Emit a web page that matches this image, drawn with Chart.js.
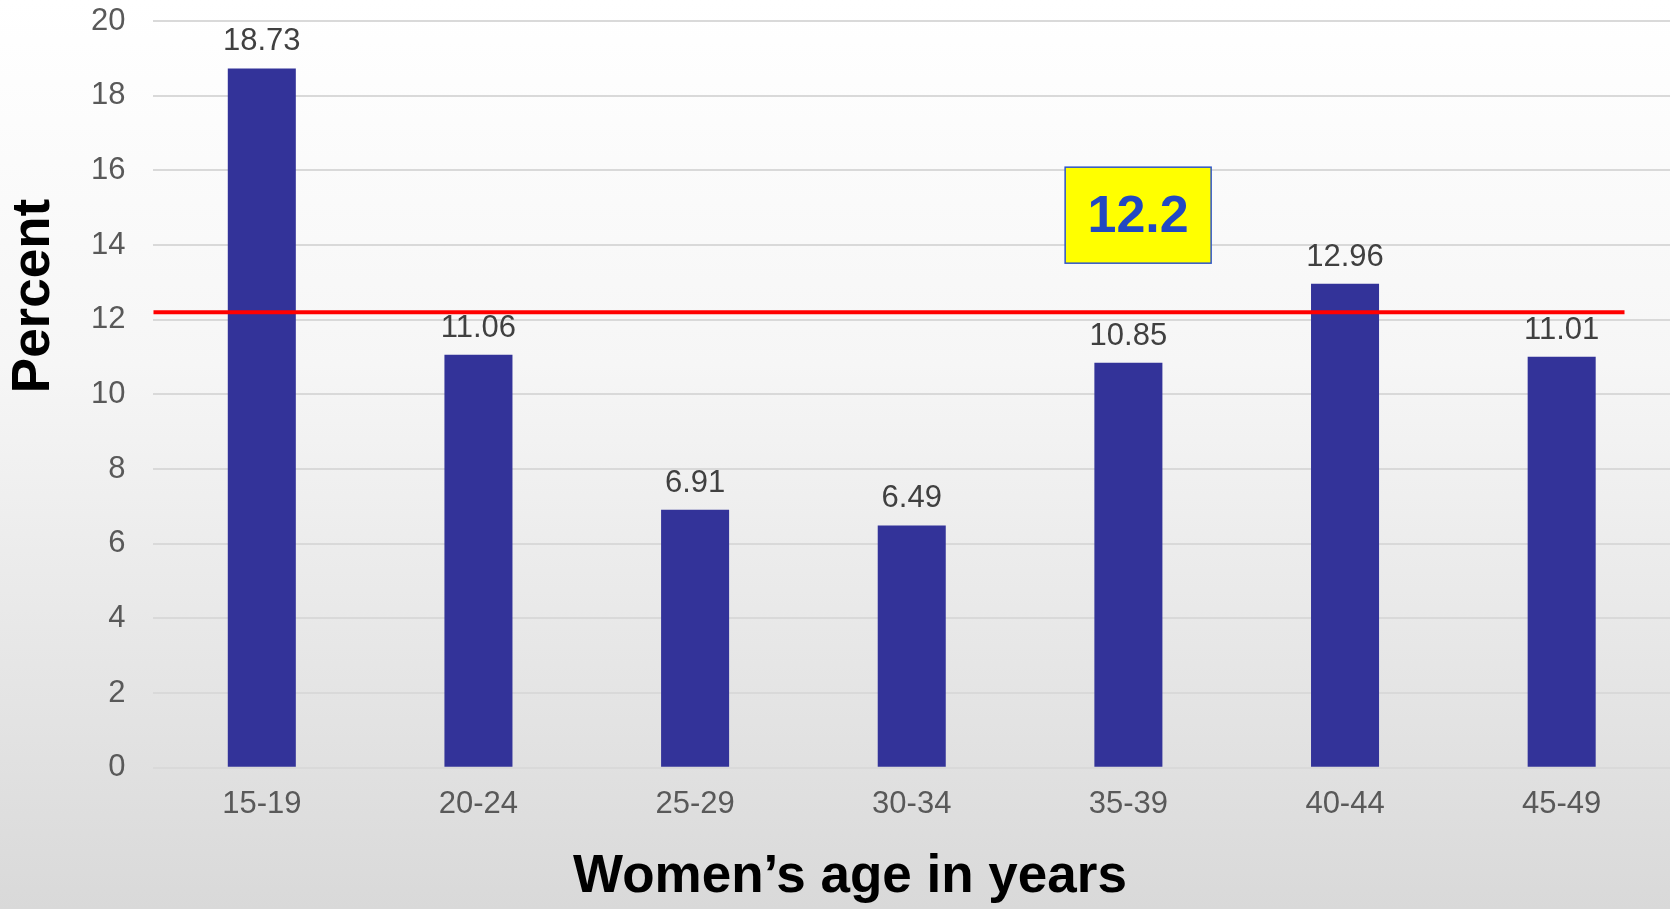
<!DOCTYPE html>
<html>
<head>
<meta charset="utf-8">
<title>Women's age in years</title>
<script src="https://cdn.jsdelivr.net/npm/chart.js@4.4.1/dist/chart.umd.min.js"></script>
<style>
    html, body { margin: 0; padding: 0; }
    body {
        width: 1670px;
        height: 909px;
        overflow: hidden;
        background: linear-gradient(to bottom, #ffffff 0%, #f6f6f6 40%, #d9d9d9 100%);
    }
    #chart { display: block; }
</style>
</head>
<body>
<canvas id="chart" width="1670" height="909"></canvas>
<script>
// data
var ageGroups = ["15-19", "20-24", "25-29", "30-34", "35-39", "40-44", "45-49"];
var percentValues = [18.73, 11.06, 6.91, 6.49, 10.85, 12.96, 11.01];
var averageValue = 12.2;
var yMin = 0;
var yMax = 20;
var yStep = 2;

var fontFamily = "'Liberation Sans', Arial, sans-serif";

// numbers above the bars
var barValues = {
    id: "barValues",
    afterDatasetsDraw: function(chart) {
        var ctx = chart.ctx;
        var meta = chart.getDatasetMeta(0);
        ctx.save();
        ctx.font = "31px " + fontFamily;
        ctx.fillStyle = "#404040";
        ctx.textAlign = "center";
        ctx.textBaseline = "alphabetic";
        meta.data.forEach(function(bar, i) {
            ctx.fillText(percentValues[i].toFixed(2), bar.x, bar.y - 18);
        });
        ctx.restore();
    }
};

// red average line + yellow box
var averageMark = {
    id: "averageMark",
    afterDatasetsDraw: function(chart) {
        var ctx = chart.ctx;
        var x = chart.scales.x;
        var y = chart.scales.y;
        var step = x.getPixelForValue(1) - x.getPixelForValue(0);
        var lineY = y.getPixelForValue(averageValue);

        ctx.save();
        ctx.strokeStyle = "#ff0000";
        ctx.lineWidth = 4;
        ctx.beginPath();
        ctx.moveTo(chart.chartArea.left, lineY);
        ctx.lineTo(x.getPixelForValue(6) + step * 0.29, lineY);
        ctx.stroke();

        var boxX = x.getPixelForValue(4) + step * 0.045;
        var boxY = y.getPixelForValue(14.8);
        var w = 146, h = 96;
        ctx.fillStyle = "#ffff00";
        ctx.fillRect(boxX - w / 2, boxY - h / 2, w, h);
        ctx.strokeStyle = "#2f55c8";
        ctx.lineWidth = 1.5;
        ctx.strokeRect(boxX - w / 2, boxY - h / 2, w, h);
        ctx.font = "bold 52px " + fontFamily;
        ctx.fillStyle = "#2248c2";
        ctx.textAlign = "center";
        ctx.textBaseline = "middle";
        ctx.fillText(String(averageValue), boxX, boxY + 2);
        ctx.restore();
    }
};

// axis titles (placed off-centre like the original slide)
var axisTitles = {
    id: "axisTitles",
    afterDraw: function(chart) {
        var ctx = chart.ctx;
        ctx.save();
        ctx.font = "bold 53px " + fontFamily;
        ctx.fillStyle = "#000000";
        ctx.textAlign = "center";
        ctx.textBaseline = "middle";
        ctx.fillText("Women\u2019s age in years", 850, 877);
        ctx.translate(34, 296);
        ctx.rotate(-Math.PI / 2);
        ctx.fillText("Percent", 0, 0);
        ctx.restore();
    }
};

var chart = new Chart(document.getElementById("chart"), {
    type: "bar",
    data: {
        labels: ageGroups,
        datasets: [
            {
                label: "Percent",
                data: percentValues,
                backgroundColor: "#333399",
                borderWidth: 0,
                barPercentage: 0.314,
                categoryPercentage: 1
            }
        ]
    },
    options: {
        responsive: false,
        animation: false,
        devicePixelRatio: 1,
        layout: {
            padding: { left: 91, right: 0, top: 21, bottom: 76 }
        },
        plugins: {
            legend: { display: false },
            tooltip: { enabled: false }
        },
        scales: {
            x: {
                grid: { display: false },
                border: { display: false },
                ticks: {
                    color: "#595959",
                    padding: 10,
                    font: { family: fontFamily, size: 31 }
                }
            },
            y: {
                min: yMin,
                max: yMax,
                grid: {
                    color: "#d9d9d9",
                    lineWidth: 2,
                    drawTicks: true,
                    tickLength: 28,
                    tickColor: "rgba(0,0,0,0)"
                },
                border: { display: false },
                ticks: {
                    stepSize: yStep,
                    color: "#595959",
                    padding: 0,
                    font: { family: fontFamily, size: 31 }
                }
            }
        }
    },
    plugins: [barValues, averageMark, axisTitles]
});
</script>
</body>
</html>
